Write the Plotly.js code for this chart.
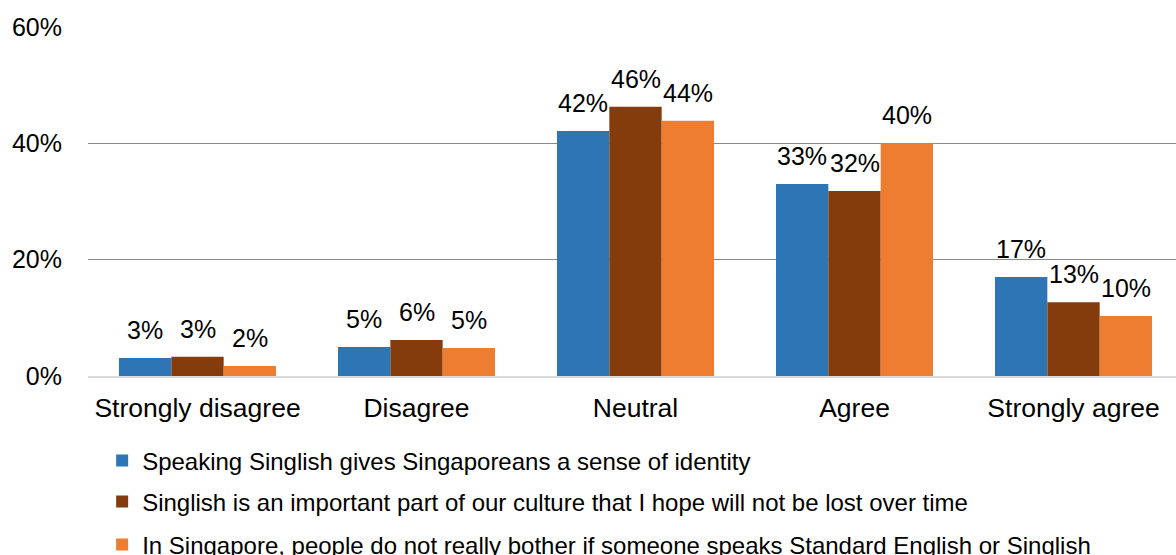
<!DOCTYPE html>
<html>
<head>
<meta charset="utf-8">
<script src="https://cdn.plot.ly/plotly-3.0.1.min.js"></script>
<style>
html,body{margin:0;padding:0;background:#fff;overflow:hidden;}
#chart{width:1176px;height:555px;}
</style>
</head>
<body>
<div id="chart"></div>
<script>
const categories = ["Strongly disagree", "Disagree", "Neutral", "Agree", "Strongly agree"];
const seriesNames = [
  "Speaking Singlish gives Singaporeans a sense of identity",
  "Singlish is an important part of our culture that I hope will not be lost over time",
  "In Singapore, people do not really bother if someone speaks Standard English or Singlish"
];
const identity = [0.031, 0.050, 0.421, 0.330, 0.170];
const culture  = [0.033, 0.062, 0.463, 0.318, 0.127];
const bother   = [0.017, 0.048, 0.439, 0.400, 0.103];
const yTickVals = [0, 0.2, 0.4, 0.6];
const yTickText = ["0%", "20%", "40%", "60%"];
const colors = ["#2E75B6", "#843C0C", "#ED7D31"];

const seriesValues = [identity, culture, bother];
const legendIds = ["legend", "legend2", "legend3"];
const FONT = "Liberation Sans, Arial, sans-serif";

const traces = seriesValues.map((vals, i) => ({
  type: "bar",
  name: seriesNames[i],
  x: categories,
  y: vals,
  marker: {color: colors[i], line: {width: 0}},
  legend: legendIds[i],
  hoverinfo: "none"
}));

const barPx = 52.3;
const annotations = [];
seriesValues.forEach((vals, i) => {
  vals.forEach((v, j) => {
    annotations.push({
      x: categories[j], y: v, xref: "x", yref: "y",
      text: Math.round(v * 100) + "%",
      showarrow: false,
      xanchor: "center", yanchor: "bottom",
      xshift: (i - 1) * barPx, yshift: 12,
      font: {family: FONT, size: 25, color: "#000"}
    });
  });
});

const legendBase = {
  orientation: "v", xanchor: "left", yanchor: "middle", x: 0.013,
  bgcolor: "rgba(0,0,0,0)", borderwidth: 0,
  font: {family: FONT, size: 24, color: "#000"}
};

const layout = {
  width: 1176, height: 555,
  margin: {l: 88, r: 0, t: 27, b: 179, pad: 0, autoexpand: false},
  paper_bgcolor: "#fff", plot_bgcolor: "#fff",
  font: {family: FONT, size: 25, color: "#000"},
  barmode: "group", bargap: 0.283, bargroupgap: 0,
  xaxis: {
    type: "category", range: [-0.5, 4.468],
    showgrid: false, zeroline: false,
    showline: true, linecolor: "#D9D9D9", linewidth: 1.5,
    ticks: "", ticklabelstandoff: 8,
    tickfont: {family: FONT, size: 26.5, color: "#000"},
    fixedrange: true
  },
  yaxis: {
    range: [0, 0.6], tickvals: yTickVals, ticktext: yTickText,
    showgrid: true, gridcolor: "#898989", gridwidth: 1.3,
    zeroline: false, showline: false, ticks: "",
    ticklabelstandoff: 25,
    tickfont: {family: FONT, size: 25, color: "#000"},
    fixedrange: true
  },
  showlegend: true,
  legend:  Object.assign({}, legendBase, {y: -0.243}),
  legend2: Object.assign({}, legendBase, {y: -0.361}),
  legend3: Object.assign({}, legendBase, {y: -0.484}),
  annotations: annotations
};

Plotly.newPlot("chart", traces, layout, {displayModeBar: false, staticPlot: true});
</script>
</body>
</html>
